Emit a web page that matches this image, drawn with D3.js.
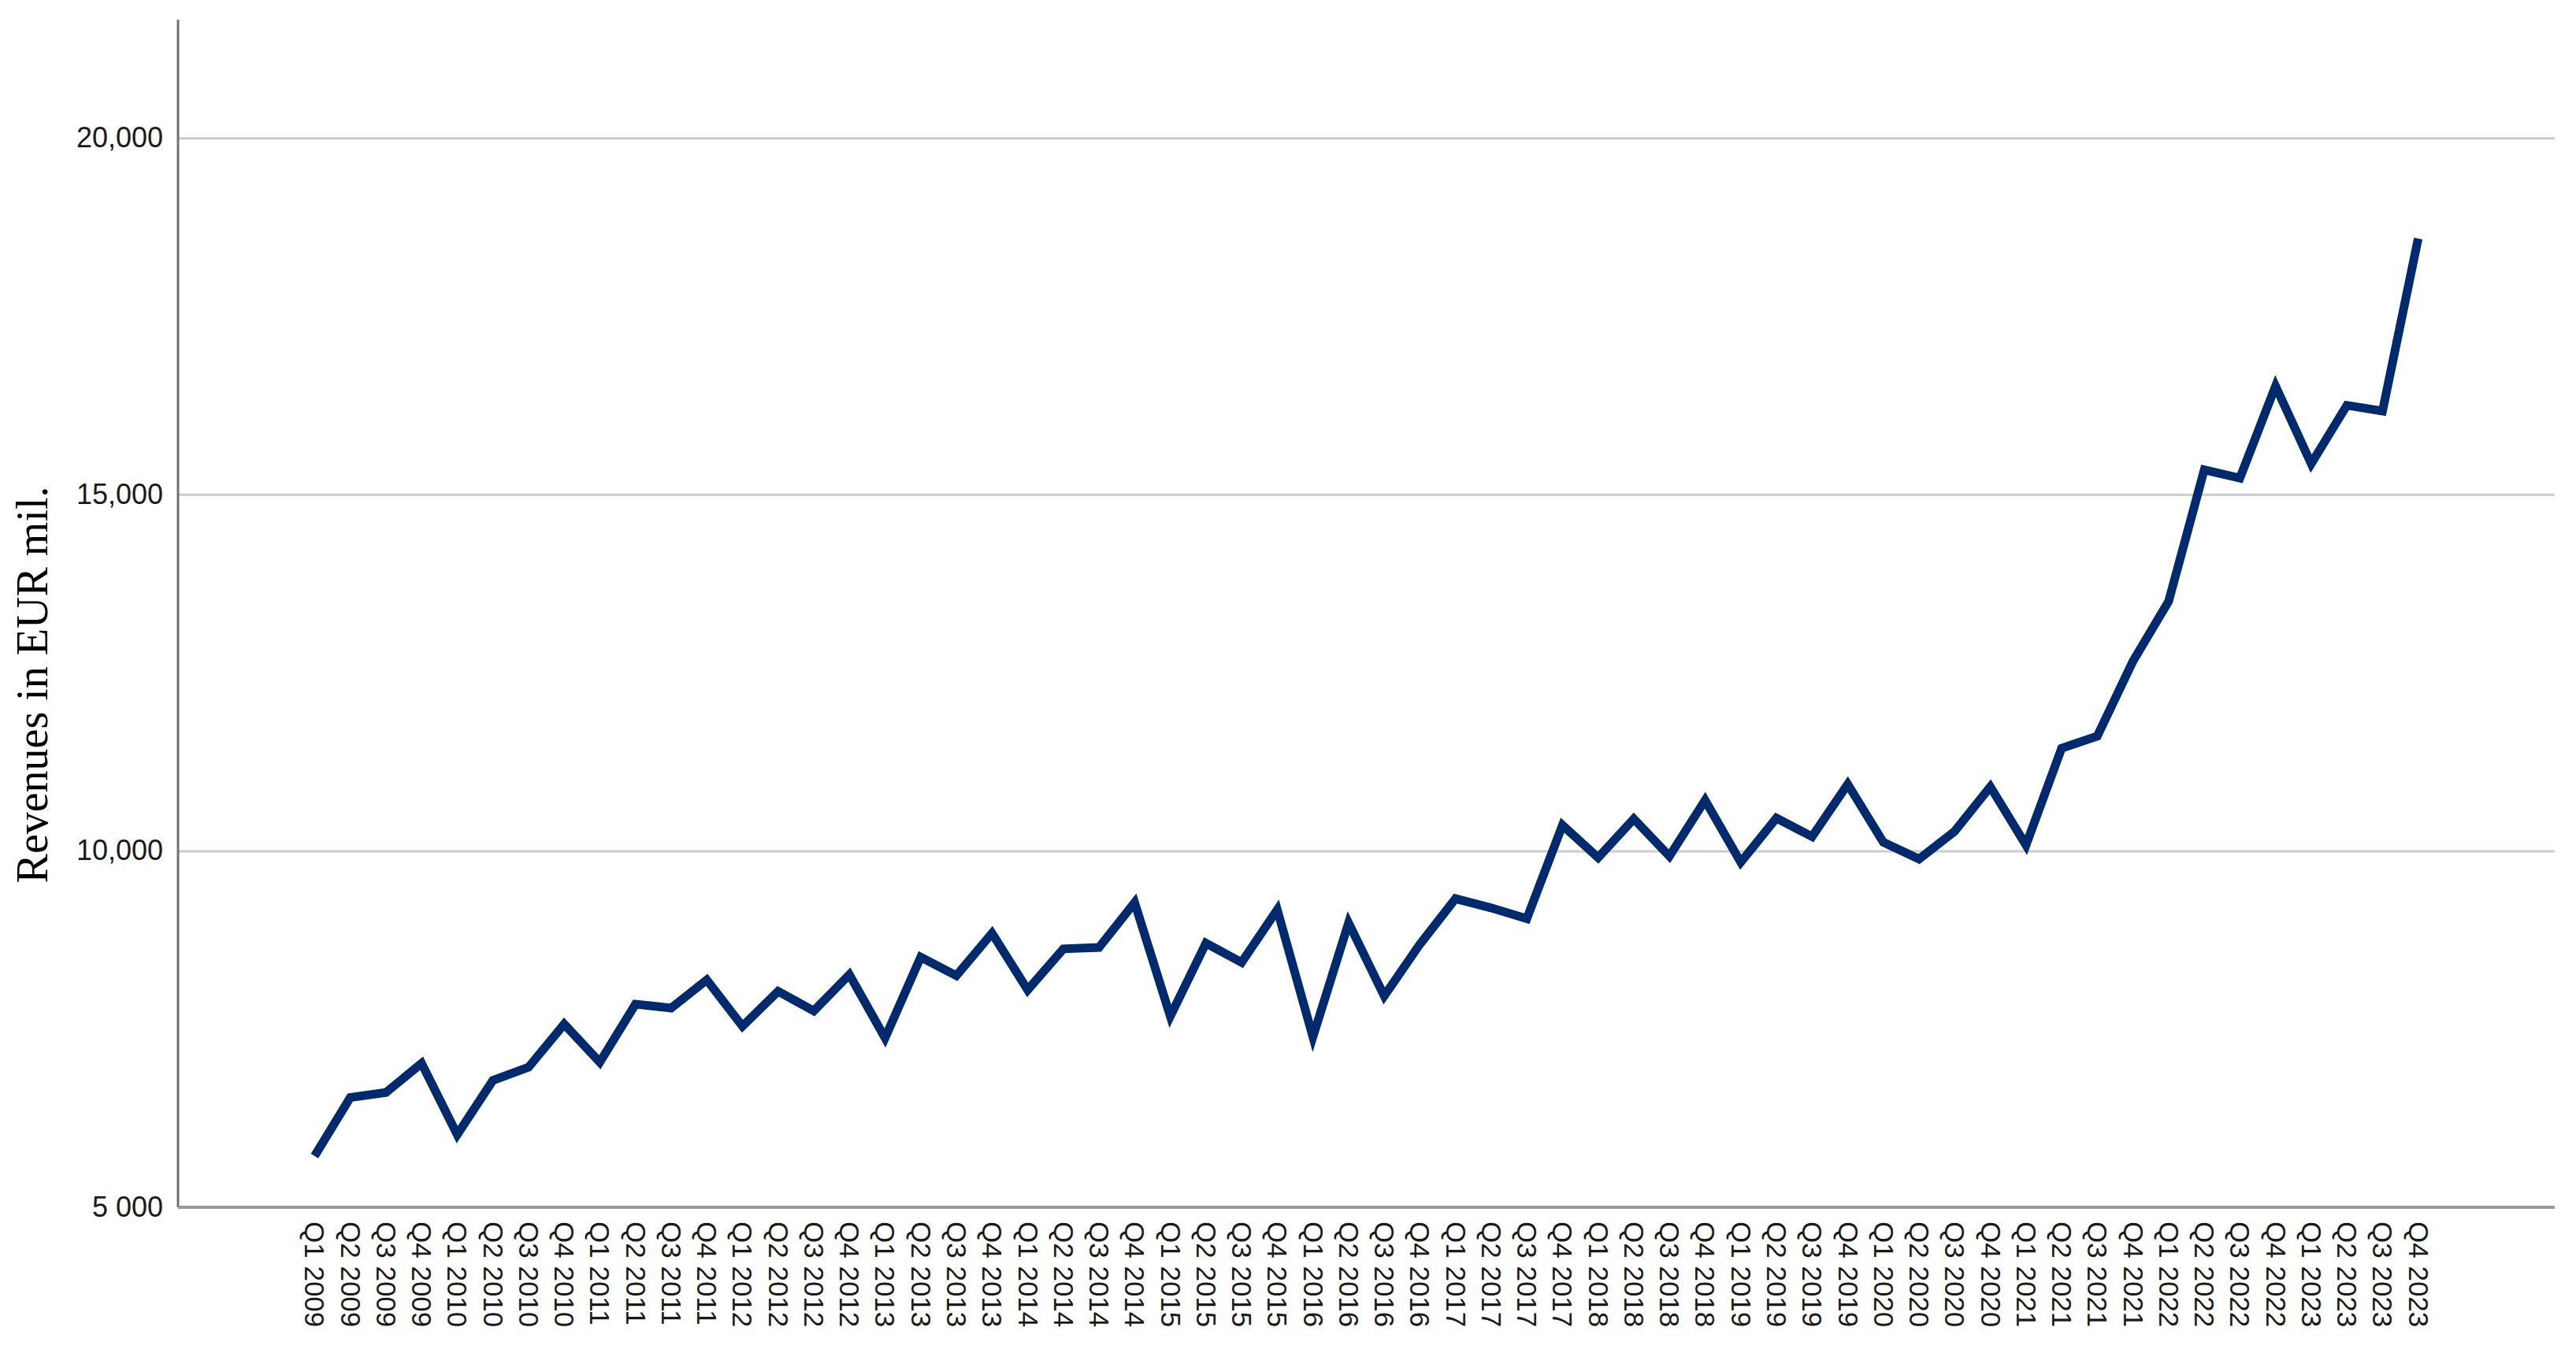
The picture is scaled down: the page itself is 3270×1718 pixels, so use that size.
<!DOCTYPE html>
<html>
<head>
<meta charset="utf-8">
<script src="https://cdn.jsdelivr.net/npm/d3@7"></script>
<style>
  body { margin: 0; background: #fff; }
  .axis text { font-family: "Liberation Sans", Arial, sans-serif; fill: #1a1a1a; }
  .grid line { stroke: #cbcbcb; stroke-width: 3; }
  .curve_rev { fill: none; stroke: #002a6e; stroke-width: 11; stroke-linejoin: miter; }
</style>
</head>
<body>
<div id="RevPlot"></div>
<script>
// quarters on the x axis
var quarters = [
  "Q1 2009","Q2 2009","Q3 2009","Q4 2009",
  "Q1 2010","Q2 2010","Q3 2010","Q4 2010",
  "Q1 2011","Q2 2011","Q3 2011","Q4 2011",
  "Q1 2012","Q2 2012","Q3 2012","Q4 2012",
  "Q1 2013","Q2 2013","Q3 2013","Q4 2013",
  "Q1 2014","Q2 2014","Q3 2014","Q4 2014",
  "Q1 2015","Q2 2015","Q3 2015","Q4 2015",
  "Q1 2016","Q2 2016","Q3 2016","Q4 2016",
  "Q1 2017","Q2 2017","Q3 2017","Q4 2017",
  "Q1 2018","Q2 2018","Q3 2018","Q4 2018",
  "Q1 2019","Q2 2019","Q3 2019","Q4 2019",
  "Q1 2020","Q2 2020","Q3 2020","Q4 2020",
  "Q1 2021","Q2 2021","Q3 2021","Q4 2021",
  "Q1 2022","Q2 2022","Q3 2022","Q4 2022",
  "Q1 2023","Q2 2023","Q3 2023","Q4 2023"
];

// revenues in EUR mil.
var revenues = [
  5720, 6540, 6610, 7020,
  6020, 6780, 6965, 7570,
  7035, 7850, 7795, 8190,
  7540, 8030, 7755, 8265,
  7375, 8510, 8250, 8845,
  8050, 8625, 8645, 9275,
  7680, 8705, 8435, 9175,
  7390, 8990, 7965, 8690,
  9330, 9200, 9050, 10360,
  9905, 10450, 9925, 10710,
  9840, 10460, 10200, 10935,
  10120, 9885, 10275, 10900,
  10080, 11440, 11610, 12660,
  13500, 15345, 15230, 16520,
  15430, 16250, 16170, 18590
];

var yTicks = [5000, 10000, 15000, 20000];
var yTickLabels = ["5 000", "10,000", "15,000", "20,000"];
var yMax = 21660;
var yTitle = "Revenues in EUR mil.";

RevPlot();

function RevPlot() {

var W = 3270, H = 1718;
var margin = {top: 25, right: 27, bottom: 185, left: 226},
    width = W - margin.left - margin.right,
    height = H - margin.top - margin.bottom;

var svg = d3.select("#RevPlot").append("svg").attr("width", W).attr("height", H);

var data = quarters.map(function(q, i) { return {q: q, v: revenues[i]}; });

var x = d3.scalePoint().domain(quarters).range([0, width]).padding(3.83),
    y = d3.scaleLinear().domain([yTicks[0], yMax]).range([height, 0]);

var g = svg.append("g")
    .attr("transform", "translate(" + margin.left + "," + margin.top + ")");

// horizontal gridlines
g.append("g")
    .attr("class", "grid")
    .call(d3.axisLeft(y).tickValues(yTicks.slice(1)).tickSize(-width).tickFormat(""))
    .call(function(s) { s.select(".domain").remove(); });

// axis lines
g.append("line")
    .attr("x1", 0).attr("x2", 0)
    .attr("y1", 0).attr("y2", height)
    .attr("stroke", "#707070").attr("stroke-width", 3);

g.append("line")
    .attr("x1", 0).attr("x2", width)
    .attr("y1", height).attr("y2", height)
    .attr("stroke", "#9a9a9a").attr("stroke-width", 4);

// y axis labels
var yAxis = d3.axisLeft(y).tickValues(yTicks).tickSize(0).tickPadding(19)
    .tickFormat(function(d, i) { return yTickLabels[i]; });

g.append("g")
    .attr("class", "axis axis--y")
    .call(yAxis)
    .call(function(s) { s.select(".domain").remove(); })
    .selectAll("text")
    .attr("font-size", 36);

// x axis labels, rotated
var xAxis = d3.axisBottom(x).tickSize(0);

g.append("g")
    .attr("class", "axis axis--x")
    .attr("transform", "translate(0," + height + ")")
    .call(xAxis)
    .call(function(s) { s.select(".domain").remove(); })
    .selectAll("text")
    .attr("font-size", 35)
    .attr("y", 0).attr("dy", 0)
    .attr("dominant-baseline", "central")
    .attr("text-anchor", "start")
    .attr("transform", "translate(0,18) rotate(90)");

// the revenue line
var curve_rev = d3.line()
    .x(function(d) { return x(d.q); })
    .y(function(d) { return y(d.v); });

g.append("path")
    .datum(data)
    .attr("class", "curve_rev")
    .attr("d", curve_rev);

// y axis title
svg.append("text")
    .attr("transform", "translate(60," + (margin.top + height * 0.56) + ") rotate(-90)")
    .attr("text-anchor", "middle")
    .attr("font-family", "'Liberation Serif', 'Times New Roman', serif")
    .attr("font-size", 56)
    .attr("fill", "#000")
    .text(yTitle);

}
</script>
</body>
</html>
